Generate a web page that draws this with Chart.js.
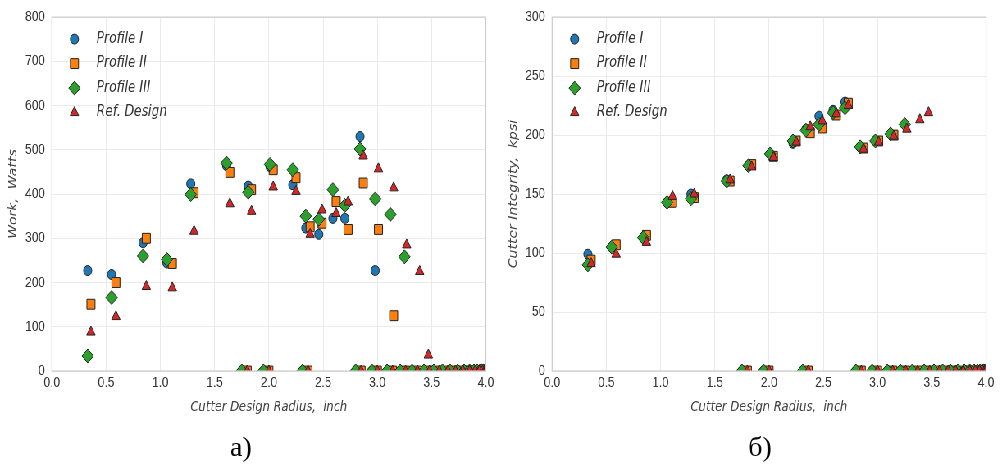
<!DOCTYPE html>
<html>
<head>
<meta charset="utf-8">
<script src="https://cdn.jsdelivr.net/npm/chart.js@4.4.1/dist/chart.umd.min.js"></script>
<style>
  html, body { margin: 0; padding: 0; background: #fff; width: 1001px; height: 466px; overflow: hidden; }
  #fig { position: absolute; left: 0; top: 0; width: 1221px; height: 466px; transform: scaleX(0.82); transform-origin: 0 0; }
  #fig canvas { position: absolute; top: 0; }
  .cap { position: absolute; top: 433px; font-family: "Liberation Serif", serif; font-size: 28px; line-height: 1; color: #000; transform: translateX(-50%); white-space: nowrap; }
</style>
</head>
<body>
<div id="fig">
  <canvas id="work" width="610" height="466" style="left:0"></canvas>
  <canvas id="integrity" width="610" height="466" style="left:610px"></canvas>
</div>
<div class="cap" style="left:241px">a)</div>
<div class="cap" style="left:760px">б)</div>
<script>
// Cutter design radius (inch) of the feasible designs
const radiusA = [0.33, 0.55, 0.84, 1.06, 1.28, 1.61, 1.81, 2.01, 2.22, 2.34, 2.46, 2.59, 2.70, 2.84, 2.98, 3.12, 3.25];             // Profile I, III
const radiusB = [0.36, 0.59, 0.87, 1.11, 1.31, 1.64, 1.84, 2.04, 2.25, 2.38, 2.49, 2.62, 2.73, 2.87, 3.01, 3.15, 3.27, 3.39, 3.47]; // Profile II, Ref.

// Radii of the designs that failed (value 0)
const zeroRadiusA = [1.75, 1.95, 2.31, 2.80, 2.95, 3.09, 3.21, 3.32, 3.43, 3.52, 3.60, 3.67, 3.74, 3.80, 3.85, 3.89, 3.92, 3.945, 3.965, 3.98, 3.995];
const zeroRadiusB = [1.80, 2.00, 2.36, 2.85, 3.00, 3.14, 3.26, 3.37, 3.48, 3.57, 3.65, 3.72, 3.79, 3.85, 3.90, 3.94, 3.97, 3.99, 4.00];

// Work, Watts
const workProfile1 = [227, 218, 290, 244, 423, 464, 418, 462, 421, 323, 309, 345, 345, 530, 227];
const workProfile2 = [151, 200, 300, 243, 403, 449, 410, 455, 437, 326, 334, 383, 320, 425, 320, 125];
const workProfile3 = [34, 166, 260, 252, 399, 470, 404, 467, 455, 350, 343, 410, 374, 502, 389, 354, 258];
const workRef      = [88, 123, 191, 188, 316, 378, 361, 416, 406, 309, 364, 356, 382, 486, 457, 414, 285, 225, 36];

// Cutter integrity, kpsi
const integProfile1 = [99, 105, 113, 143, 150, 162, 174, 184, 193, 205, 216, 221, 228, 190, 195];
const integProfile2 = [94, 107, 115, 143, 147, 161, 175, 182, 195, 202, 206, 217, 227, 189, 195, 200];
const integProfile3 = [90, 105, 113, 143, 146, 161, 174, 184, 195, 204, 209, 219, 223, 190, 195, 201, 209];
const integRef      = [91, 99, 109, 148, 150, 162, 173, 181, 194, 207, 212, 218, 225, 188, 194, 199, 205, 213, 219];

const seriesNames = ['Profile I', 'Profile II', 'Profile III', 'Ref. Design'];
const xTickLabels = ['0.0', '0.5', '1.0', '1.5', '2.0', '2.5', '3.0', '3.5', '4.0'];
const workTickLabels = ['0', '100', '200', '300', '400', '500', '600', '700', '800'];
const integTickLabels = ['0', '50', '100', '150', '200', '250', '300'];

const colors = ['#1f77b4', '#ff7f0e', '#2ca02c', '#d62728'];
const markers = ['circle', 'rect', 'rectRot', 'triangle'];
const markerRadius = [5, 7, 7, 6];
const edge = '#222222';

Chart.defaults.font.family = '"Liberation Sans", Arial, sans-serif';
Chart.defaults.color = '#333';

function points(xs, vals, zeros) {
  const pts = vals.map((v, i) => ({ x: xs[i], y: v }));
  zeros.forEach(z => pts.push({ x: z, y: 0 }));
  return pts;
}

function drawMarker(ctx, style, r, x, y, fill, stroke) {
  ctx.beginPath();
  if (style === 'circle') {
    ctx.arc(x, y, r, 0, Math.PI * 2);
  } else if (style === 'rect') {
    const s = Math.SQRT1_2 * r;
    ctx.rect(x - s, y - s, 2 * s, 2 * s);
  } else if (style === 'rectRot') {
    ctx.moveTo(x - r, y); ctx.lineTo(x, y - r); ctx.lineTo(x + r, y); ctx.lineTo(x, y + r); ctx.closePath();
  } else {
    const w = Math.sin(2 * Math.PI / 3) * r;
    ctx.moveTo(x, y - r); ctx.lineTo(x + w, y + 0.5 * r); ctx.lineTo(x - w, y + 0.5 * r); ctx.closePath();
  }
  ctx.fillStyle = fill; ctx.fill();
  ctx.lineWidth = 1; ctx.strokeStyle = stroke; ctx.stroke();
}

// light frame round the plotting area
const framePlugin = {
  id: 'frame',
  afterDatasetsDraw(chart) {
    const a = chart.chartArea, ctx = chart.ctx;
    ctx.save();
    ctx.strokeStyle = '#cccccc';
    ctx.lineWidth = 1.2;
    ctx.strokeRect(a.left, a.top, a.right - a.left, a.bottom - a.top);
    ctx.restore();
  }
};

// legend drawn inside the top-left corner of the plotting area
const insideLegend = {
  id: 'insideLegend',
  afterDraw(chart) {
    const a = chart.chartArea, ctx = chart.ctx;
    ctx.save();
    chart.data.datasets.forEach((ds, i) => {
      const y = a.top + 22 + i * 24.5;
      drawMarker(ctx, ds.pointStyle, ds.pointRadius, a.left + 27.5, y, ds.backgroundColor, ds.borderColor);
      ctx.fillStyle = '#333';
      ctx.font = 'italic 15px "DejaVu Sans"';
      ctx.textAlign = 'left';
      ctx.textBaseline = 'middle';
      ctx.fillText(ds.label, a.left + 54.5, y);
    });
    ctx.restore();
  }
};

function makeChart(id, seriesPts, yMax, yStep, yTicks, yTitle) {
  const datasets = seriesPts.map((pts, i) => ({
    label: seriesNames[i],
    data: pts,
    pointStyle: markers[i],
    pointRadius: markerRadius[i],
    pointHoverRadius: markerRadius[i],
    pointBorderWidth: 1,
    backgroundColor: colors[i],
    borderColor: edge,
    showLine: false,
    clip: 0,
    order: 3 - i
  }));
  return new Chart(document.getElementById(id), {
    type: 'scatter',
    data: { datasets },
    options: {
      responsive: false,
      animation: false,
      events: [],
      layout: { padding: { left: 0, right: 17.5, top: 15, bottom: 0 } },
      plugins: { legend: { display: false }, tooltip: { enabled: false } },
      scales: {
        x: {
          type: 'linear', min: 0, max: 4,
          afterFit(s) { s.height = 95; },
          grid: { color: '#ebebeb', drawTicks: false },
          border: { display: false },
          ticks: { stepSize: 0.5, padding: 3, autoSkip: false, maxRotation: 0, color: '#333',
                   font: { size: 14.5 }, callback: (v, i) => xTickLabels[i] },
          title: { display: true, text: 'Cutter Design Radius,  inch', color: '#444',
                   font: { family: '"DejaVu Sans"', style: 'italic', size: 14 },
                   padding: { top: 0, bottom: 50.6 } }
        },
        y: {
          type: 'linear', min: 0, max: yMax,
          afterFit(s) { s.width = 63.3; },
          grid: { color: '#ebebeb', drawTicks: false },
          border: { display: false },
          ticks: { stepSize: yStep, padding: 8.4, color: '#333',
                   font: { size: 14.5 }, callback: (v, i) => yTicks[i] },
          title: { display: true, text: yTitle, color: '#444',
                   font: { family: '"DejaVu Sans"', style: 'italic', size: 14 },
                   padding: { top: 7.5, bottom: 0 } }
        }
      }
    },
    plugins: [framePlugin, insideLegend]
  });
}

makeChart('work', [
  points(radiusA, workProfile1, zeroRadiusA),
  points(radiusB, workProfile2, zeroRadiusB),
  points(radiusA, workProfile3, zeroRadiusA),
  points(radiusB, workRef, zeroRadiusB)
], 800, 100, workTickLabels, 'Work,  Watts');

makeChart('integrity', [
  points(radiusA, integProfile1, zeroRadiusA),
  points(radiusB, integProfile2, zeroRadiusB),
  points(radiusA, integProfile3, zeroRadiusA),
  points(radiusB, integRef, zeroRadiusB)
], 300, 50, integTickLabels, 'Cutter Integrity,  kpsi');
</script>
</body>
</html>
